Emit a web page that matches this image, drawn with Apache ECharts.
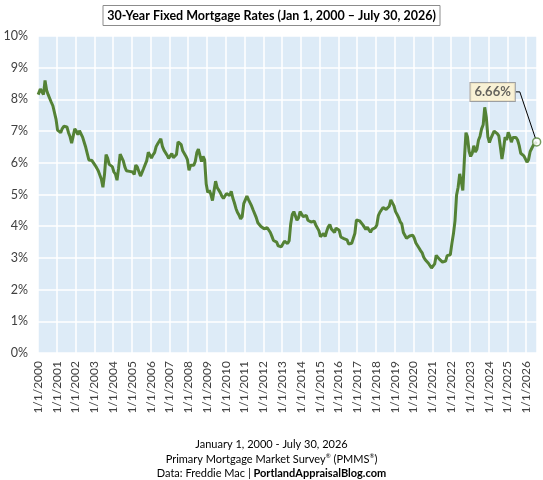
<!DOCTYPE html>
<html>
<head>
<meta charset="utf-8">
<script src="https://cdn.jsdelivr.net/npm/echarts@6/dist/echarts.min.js"></script>
<style>html,body{margin:0;padding:0;background:#fff}#c{width:543px;height:480px}</style>
</head>
<body>
<div id="c"></div>
<script>
// Monthly 30-year fixed mortgage rates (%)
const r2000 = [8.15, 8.33, 8.24, 8.15, 8.60, 8.29, 8.15, 8.03, 7.91, 7.80, 7.75, 7.38];
const r2001 = [7.03, 7.05, 6.95, 7.08, 7.15, 7.16, 7.13, 6.95, 6.82, 6.62, 6.66, 7.07];
const r2002 = [7.00, 6.89, 7.01, 6.99, 6.81, 6.65, 6.49, 6.29, 6.09, 6.11, 6.07, 6.05];
const r2003 = [5.92, 5.84, 5.75, 5.81, 5.48, 5.23, 5.63, 6.26, 6.15, 5.95, 5.93, 5.88];
const r2004 = [5.71, 5.64, 5.45, 5.83, 6.27, 6.29, 6.06, 5.87, 5.75, 5.72, 5.73, 5.75];
const r2005 = [5.71, 5.63, 5.93, 5.86, 5.72, 5.58, 5.70, 5.82, 5.77, 6.07, 6.33, 6.27];
const r2006 = [6.15, 6.25, 6.32, 6.51, 6.60, 6.68, 6.76, 6.52, 6.40, 6.36, 6.24, 6.14];
const r2007 = [6.22, 6.29, 6.16, 6.18, 6.26, 6.66, 6.70, 6.57, 6.38, 6.38, 6.21, 6.10];
const r2008 = [5.76, 5.92, 5.97, 5.92, 6.04, 6.32, 6.43, 6.48, 6.04, 6.20, 6.09, 5.33];
const r2009 = [5.06, 5.13, 5.00, 4.81, 4.86, 5.42, 5.22, 5.19, 5.06, 4.95, 4.88, 4.93];
const r2010 = [5.03, 4.99, 4.97, 5.10, 4.89, 4.74, 4.56, 4.43, 4.35, 4.23, 4.30, 4.71];
const r2011 = [4.76, 4.95, 4.84, 4.84, 4.64, 4.51, 4.55, 4.27, 4.11, 4.07, 3.99, 3.96];
const r2012 = [3.92, 3.89, 3.95, 3.91, 3.80, 3.68, 3.55, 3.60, 3.50, 3.38, 3.35, 3.35];
const r2013 = [3.41, 3.53, 3.57, 3.45, 3.54, 4.07, 4.37, 4.46, 4.49, 4.19, 4.26, 4.46];
const r2014 = [4.43, 4.30, 4.34, 4.34, 4.19, 4.16, 4.13, 4.12, 4.16, 4.04, 4.00, 3.86];
const r2015 = [3.67, 3.71, 3.77, 3.67, 3.84, 3.98, 4.05, 3.91, 3.89, 3.80, 3.94, 3.96];
const r2016 = [3.87, 3.66, 3.69, 3.61, 3.60, 3.57, 3.44, 3.44, 3.46, 3.47, 3.77, 4.20];
const r2017 = [4.15, 4.17, 4.20, 4.05, 4.01, 3.90, 3.97, 3.88, 3.81, 3.90, 3.92, 3.95];
const r2018 = [4.03, 4.33, 4.44, 4.47, 4.59, 4.57, 4.53, 4.55, 4.63, 4.83, 4.87, 4.64];
const r2019 = [4.46, 4.37, 4.27, 4.14, 4.07, 3.80, 3.77, 3.62, 3.61, 3.69, 3.70, 3.72];
const r2020 = [3.62, 3.47, 3.45, 3.31, 3.23, 3.16, 3.02, 2.94, 2.89, 2.83, 2.77, 2.68];
const r2021 = [2.74, 2.81, 3.08, 3.06, 2.96, 2.98, 2.87, 2.84, 2.90, 3.07, 3.07, 3.10];
const r2022 = [3.45, 3.76, 4.17, 4.98, 5.23, 5.65, 5.41, 5.13, 6.11, 6.95, 6.81, 6.36];
const r2023 = [6.20, 6.30, 6.54, 6.34, 6.43, 6.71, 6.84, 7.07, 7.20, 7.75, 7.44, 6.82];
const r2024 = [6.64, 6.78, 6.82, 7.00, 7.06, 6.92, 6.85, 6.50, 6.12, 6.43, 6.81, 6.72];
const r2025 = [6.96, 6.84, 6.65, 6.80, 6.85, 6.80, 6.72, 6.55, 6.30, 6.25, 6.22, 6.18];
const r2026 = [6.02, 6.10, 6.35, 6.45, 6.55, 6.55, 6.66];

const yearsData = [r2000, r2001, r2002, r2003, r2004, r2005, r2006, r2007, r2008, r2009,
  r2010, r2011, r2012, r2013, r2014, r2015, r2016, r2017, r2018, r2019,
  r2020, r2021, r2022, r2023, r2024, r2025, r2026];
const startYear = 2000;
const startDate = '2000-01-01';
const endDate = '2026-07-30';
const lastDate = '2026-07-23';
const lastValue = 6.66;
const yTicks = [0, 1, 2, 3, 4, 5, 6, 7, 8, 9, 10];

function dateToYear(s) {
  const d = new Date(s + 'T00:00:00Z');
  const y = d.getUTCFullYear();
  const t0 = Date.UTC(y, 0, 1), t1 = Date.UTC(y + 1, 0, 1);
  return y + (d.getTime() - t0) / (t1 - t0);
}
const xMin = dateToYear(startDate);
const xMax = dateToYear(endDate);
const xLast = dateToYear(lastDate);

const lineData = [];
yearsData.forEach((arr, i) => {
  arr.forEach((v, m) => {
    const y = startYear + i;
    let x = y + (m + 0.5) / 12;
    if (i === 0 && m === 0) x = xMin + 0.01;
    if (i === yearsData.length - 1 && m === arr.length - 1) x = xLast;
    lineData.push([x, v]);
  });
});

const FONT = 'Lato';
const green = '#548235';
const chart = echarts.init(document.getElementById('c'), null, {renderer: 'canvas'});
chart.setOption({
  animation: false,
  backgroundColor: '#ffffff',
  textStyle: {fontFamily: FONT},
  title: [
    {
      text: '30-Year Fixed Mortgage Rates (Jan 1, 2000 \u2013 July 30, 2026)',
      left: 'center', top: 5,
      borderColor: '#8c8c8c', borderWidth: 1,
      padding: [4, 4, 4, 4],
      textStyle: {fontFamily: FONT, fontSize: 12.5, fontWeight: 'bold', color: '#000'}
    },
    {
      text: 'January 1, 2000 - July 30, 2026',
      left: 'center', top: 434,
      textStyle: {fontFamily: FONT, fontSize: 11, fontWeight: 'normal', color: '#000'}
    },
    {
      text: 'Primary Mortgage Market Survey{s|\u00AE} (PMMS{s|\u00AE})',
      left: 'center', top: 448,
      textStyle: {fontFamily: FONT, fontSize: 11, fontWeight: 'normal', color: '#000',
        rich: {s: {fontSize: 6, padding: [0, 0, 6, 0], fontFamily: FONT, color: '#000'}}}
    },
    {
      text: 'Data: Freddie Mac | {b|PortlandAppraisalBlog.com}',
      left: 'center', top: 463,
      textStyle: {fontFamily: FONT, fontSize: 11, fontWeight: 'normal', color: '#000',
        rich: {b: {fontSize: 11, fontWeight: 'bold', fontFamily: FONT, color: '#000'}}}
    }
  ],
  grid: {
    left: 38, right: 6, top: 36, bottom: 127,
    show: true, backgroundColor: '#DDEBF7', borderWidth: 0
  },
  xAxis: {
    type: 'value', min: xMin, max: xMax, interval: 1,
    axisLine: {show: false}, axisTick: {show: false},
    splitLine: {show: true, lineStyle: {color: '#ffffff', width: 1.5}},
    axisLabel: {
      rotate: 90, showMaxLabel: false, margin: 8,
      fontFamily: FONT, fontSize: 12, color: '#404040',
      formatter: v => '1/1/' + Math.round(v)
    }
  },
  yAxis: {
    type: 'value', min: yTicks[0], max: yTicks[yTicks.length - 1], interval: 1,
    axisLine: {show: false}, axisTick: {show: false},
    splitLine: {show: true, lineStyle: {color: '#ffffff', width: 1.5}},
    axisLabel: {fontFamily: FONT, fontSize: 12.5, color: '#404040', margin: 10, formatter: '{value}%'}
  },
  series: [
    {
      type: 'line', data: lineData, showSymbol: false, symbol: 'none',
      lineStyle: {color: green, width: 3}, z: 2
    },
    {
      type: 'scatter', data: [[xLast, lastValue]], symbol: 'circle', symbolSize: 8,
      itemStyle: {color: '#ffffff', borderColor: green, borderWidth: 1.5}, z: 3,
      label: {
        show: true, position: 'inside',
        formatter: p => p.value[1].toFixed(2) + '%',
        fontFamily: FONT, fontSize: 13, fontWeight: 'bold', color: '#404040',
        backgroundColor: '#FFF2CC', borderColor: '#8c8c8c', borderWidth: 1,
        padding: [3, 4, 2, 4]
      },
      labelLayout: {dx: -44, dy: -50},
      labelLine: {show: true, length2: 4, lineStyle: {color: '#000000', width: 1}}
    }
  ]
});
</script>
</body>
</html>
